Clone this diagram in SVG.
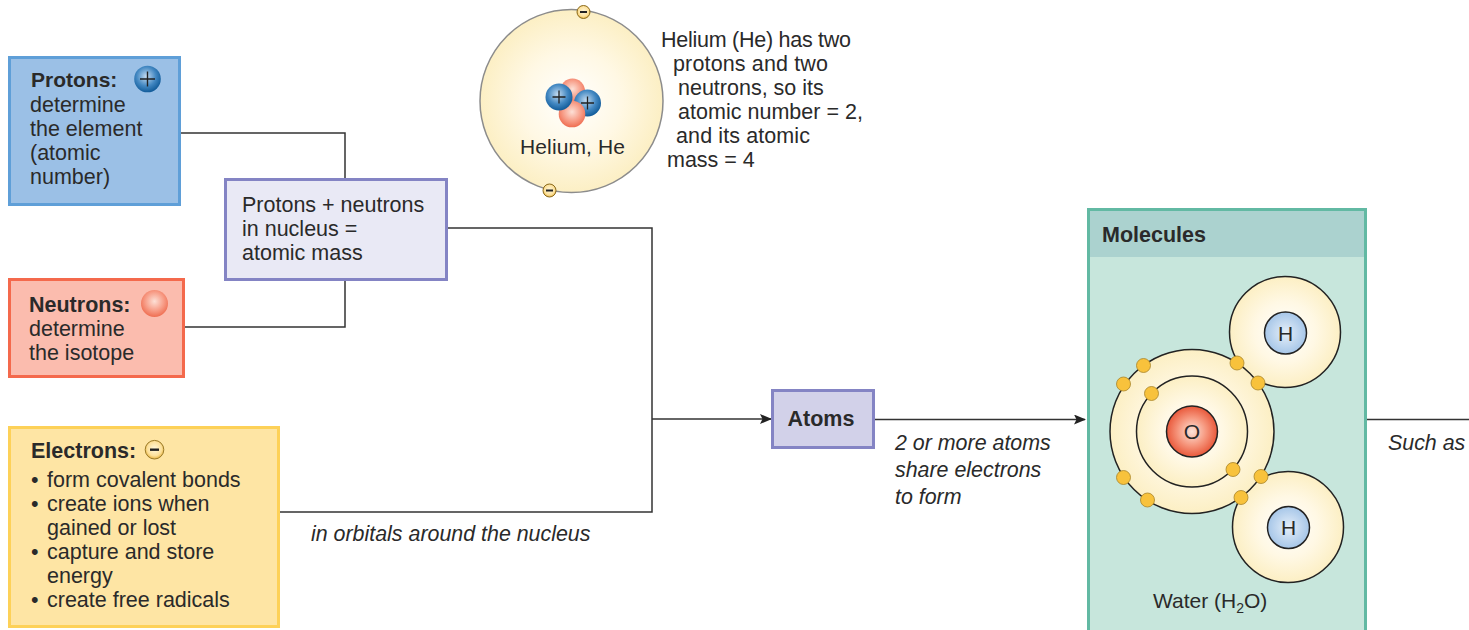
<svg xmlns="http://www.w3.org/2000/svg" width="1469" height="630" viewBox="0 0 1469 630">
<style>
text { font-family: "Liberation Sans", Arial, sans-serif; font-size: 21.5px; fill: #2a2a2a; }
.b { font-weight: 700; }
.i { font-style: italic; font-size: 21.4px; }
.box { stroke-width: 3; }
.wire { fill: none; stroke: #333; stroke-width: 1.5; }
.orbit { stroke: #222; stroke-width: 1.5; }
.sm { font-size: 21px; }
.e { fill: #f8c23c; stroke: #a8842a; stroke-width: 0.8; }
</style>
<defs>
<radialGradient id="shell"><stop offset="0" stop-color="#ffffff"/><stop offset="0.55" stop-color="#fff8e4"/><stop offset="1" stop-color="#fcefc4"/></radialGradient>
<radialGradient id="pro" cx="0.45" cy="0.4" r="0.6"><stop offset="0" stop-color="#c4dbf0"/><stop offset="0.6" stop-color="#4388c2"/><stop offset="1" stop-color="#125c9a"/></radialGradient>
<radialGradient id="neu" cx="0.5" cy="0.42" r="0.6"><stop offset="0" stop-color="#fde0d6"/><stop offset="0.6" stop-color="#f79a84"/><stop offset="1" stop-color="#ee6a4d"/></radialGradient>
<radialGradient id="elec" cx="0.5" cy="0.45" r="0.55"><stop offset="0" stop-color="#fff8dc"/><stop offset="0.7" stop-color="#fce09a"/><stop offset="1" stop-color="#e8b440"/></radialGradient>
<radialGradient id="oxy"><stop offset="0" stop-color="#fde3d8"/><stop offset="0.55" stop-color="#f6977e"/><stop offset="1" stop-color="#e9583a"/></radialGradient>
<radialGradient id="hyd"><stop offset="0" stop-color="#e6eff9"/><stop offset="1" stop-color="#a6c6e8"/></radialGradient>
<marker id="arrow" viewBox="0 0 12 10" refX="11" refY="5" markerWidth="12" markerHeight="10" markerUnits="userSpaceOnUse" orient="auto"><path d="M0 0L12 5L0 10L2.500 5Z" fill="#222"/></marker>
<g id="minus"><circle r="6.500" fill="url(#elec)" stroke="#8a6a1c" stroke-width="1"/><rect x="-3.500" y="-1" width="7" height="2" fill="#222"/></g>
</defs>

<g id="connectors">
<path class="wire" d="M180 133H345V179"/>
<path class="wire" d="M185 327H345V279"/>
<path class="wire" d="M447 228H652V512H280"/>
<path class="wire" d="M652 419H771" marker-end="url(#arrow)"/>
<path class="wire" d="M874 419.500H1085" marker-end="url(#arrow)"/>
<path class="wire" d="M1367 419.500H1469"/>
</g>

<g id="protons">
<rect class="box" x="9.500" y="57.500" width="170" height="147" fill="#9bc0e6" stroke="#5f9fd8"/>
<text class="b" x="31" y="87" font-size="21" style="font-size:21px">Protons:</text>
<text x="30" y="112">determine</text>
<text x="30" y="136">the element</text>
<text x="30" y="160">(atomic</text>
<text x="30" y="184">number)</text>
<circle cx="147.500" cy="79" r="13.300" fill="url(#pro)"/>
<path d="M140 79H155M147.500 71.500V86.500" stroke="#222" stroke-width="1.400"/>
</g>

<g id="neutrons">
<rect class="box" x="9.500" y="279.500" width="174" height="97" fill="#fbbcae" stroke="#f4694c"/>
<text class="b" x="29" y="312">Neutrons:</text>
<text x="29" y="336">determine</text>
<text x="29" y="360">the isotope</text>
<circle cx="154.500" cy="303.500" r="13.500" fill="url(#neu)"/>
</g>

<g id="electrons">
<rect class="box" x="9.500" y="427.500" width="269" height="199" fill="#fee5a4" stroke="#fdd158"/>
<text class="b" x="31" y="458">Electrons:</text>
<circle cx="154.500" cy="449.700" r="9.300" fill="url(#elec)" stroke="#9a7a28" stroke-width="1"/>
<rect x="150" y="448.500" width="9" height="2.400" fill="#222"/>
<text x="31" y="487">•<tspan x="47">form covalent bonds</tspan></text>
<text x="31" y="511">•<tspan x="47">create ions when</tspan></text>
<text x="47" y="535">gained or lost</text>
<text x="31" y="559">•<tspan x="47">capture and store</tspan></text>
<text x="47" y="583">energy</text>
<text x="31" y="607">•<tspan x="47">create free radicals</tspan></text>
</g>

<g id="nucleus-mass">
<rect class="box" x="225.500" y="179.500" width="221" height="100" fill="#e9e9f5" stroke="#8484c4"/>
<text x="242" y="212">Protons + neutrons</text>
<text x="242" y="236">in nucleus =</text>
<text x="242" y="260">atomic mass</text>
</g>

<g id="helium">
<circle cx="571.500" cy="101" r="91.500" fill="url(#shell)" stroke="#8c8c8c" stroke-width="1.500"/>
<circle cx="572.500" cy="91" r="12.500" fill="url(#neu)"/>
<circle cx="587.500" cy="103" r="13.500" fill="url(#pro)"/>
<path d="M581 103H594M587.500 96.500V109.500" stroke="#222" stroke-width="1.300"/>
<circle cx="572" cy="114" r="13.300" fill="url(#neu)"/>
<circle cx="559" cy="97" r="13.500" fill="url(#pro)"/>
<path d="M552.500 97H565.500M559 90.500V103.500" stroke="#222" stroke-width="1.300"/>
<use href="#minus" x="583.500" y="12"/>
<use href="#minus" x="549.500" y="190.500"/>
<text x="520" y="154" class="sm" textLength="105">Helium, He</text>
<text x="661" y="47" textLength="190">Helium (He) has two</text>
<text x="673" y="71" textLength="155">protons and two</text>
<text x="678" y="95">neutrons, so its</text>
<text x="678" y="119" textLength="185">atomic number = 2,</text>
<text x="676" y="143" textLength="134">and its atomic</text>
<text x="667" y="167">mass = 4</text>
</g>

<g id="atoms">
<rect class="box" x="772.500" y="390.500" width="101" height="57" fill="#d2d1e9" stroke="#8484c4"/>
<text class="b" x="821" y="426" text-anchor="middle">Atoms</text>
</g>

<g id="molecules">
<rect class="box" x="1088.500" y="209.500" width="277" height="430" fill="#c7e6dc" stroke="#62b9a3"/>
<rect x="1090" y="211" width="274" height="46" fill="#abd2cf"/>
<text class="b" x="1102" y="242">Molecules</text>
<circle class="orbit" cx="1285" cy="332" r="55.500" fill="url(#shell)"/>
<circle class="orbit" cx="1288" cy="527" r="55.500" fill="url(#shell)"/>
<circle class="orbit" cx="1192" cy="431.500" r="82" fill="url(#shell)"/>
<circle class="orbit" cx="1192" cy="431.500" r="55.500" fill="url(#shell)"/>
<circle class="orbit" cx="1192" cy="431.500" r="25.500" fill="url(#oxy)"/>
<circle class="orbit" cx="1285.500" cy="333" r="21" fill="url(#hyd)"/>
<circle class="orbit" cx="1288.500" cy="527.500" r="21" fill="url(#hyd)"/>
<text x="1192" y="439" text-anchor="middle" class="sm">O</text>
<text x="1285.500" y="340.500" text-anchor="middle" class="sm">H</text>
<text x="1288.500" y="535" text-anchor="middle" class="sm">H</text>
<circle class="e" cx="1143.500" cy="365.500" r="7"/>
<circle class="e" cx="1123.500" cy="384" r="7"/>
<circle class="e" cx="1151.500" cy="393.500" r="7"/>
<circle class="e" cx="1237" cy="363" r="7"/>
<circle class="e" cx="1258" cy="383" r="7"/>
<circle class="e" cx="1233" cy="469.500" r="7"/>
<circle class="e" cx="1261" cy="476.500" r="7"/>
<circle class="e" cx="1241" cy="497.500" r="7"/>
<circle class="e" cx="1123.500" cy="477.500" r="7"/>
<circle class="e" cx="1147.500" cy="500" r="7"/>
<text x="1153" y="608" class="sm">Water (H<tspan font-size="14" dy="5">2</tspan><tspan dy="-5">O)</tspan></text>
</g>

<g id="labels">
<text class="i" x="311" y="541">in orbitals around the nucleus</text>
<text class="i" x="895" y="450">2 or more atoms</text>
<text class="i" x="895" y="477">share electrons</text>
<text class="i" x="895" y="504">to form</text>
<text class="i" x="1388" y="450">Such as</text>
</g>
</svg>
